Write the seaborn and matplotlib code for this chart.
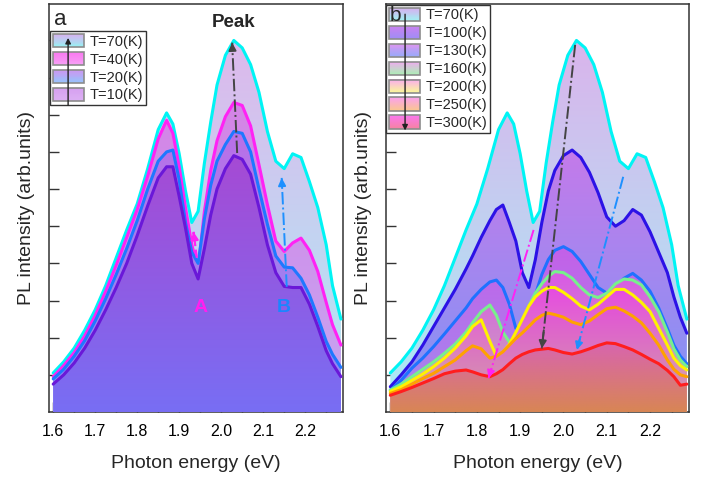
import numpy as np
import pandas as pd
import matplotlib
matplotlib.use("Agg")
import matplotlib.pyplot as plt
import seaborn as sns
from matplotlib.patches import Polygon, Rectangle
from matplotlib.legend_handler import HandlerBase
from matplotlib.ticker import MultipleLocator

# ---------------------------------------------------------------- data
# Low-temperature spectra (panel a), photon energy in eV, PL in arb. units
energy_a = [1.600, 1.625, 1.650, 1.675, 1.700, 1.725, 1.750, 1.775, 1.800,
            1.825, 1.850, 1.870, 1.885, 1.900, 1.915, 1.930, 1.945, 1.960,
            1.975, 1.990, 2.010, 2.030, 2.050, 2.070, 2.090, 2.110, 2.130,
            2.150, 2.170, 2.190, 2.210, 2.230, 2.250, 2.265, 2.285]
pl_70K = [1.05, 1.35, 1.72, 2.20, 2.75, 3.40, 4.15, 4.90, 5.60,
          6.55, 7.60, 8.05, 7.75, 6.95, 5.95, 5.10, 5.40, 6.70,
          7.80, 8.80, 9.60, 10.00, 9.80, 9.35, 8.60, 7.55, 6.75,
          6.55, 6.95, 6.85, 6.20, 5.50, 4.50, 3.40, 2.50]
pl_40K = [0.95, 1.25, 1.60, 2.05, 2.60, 3.25, 3.95, 4.70, 5.45,
          6.35, 7.35, 7.85, 7.50, 6.60, 5.50, 4.50, 3.85, 5.40,
          6.50, 7.30, 7.95, 8.33, 8.25, 7.70, 6.65, 5.58, 4.60,
          4.32, 4.55, 4.68, 4.35, 3.78, 2.95, 2.35, 1.80]
pl_20K = [0.89, 1.15, 1.50, 1.92, 2.45, 3.05, 3.70, 4.40, 5.15,
          6.00, 6.75, 7.00, 7.05, 6.25, 5.10, 4.30, 4.00, 5.20,
          6.10, 6.75, 7.20, 7.55, 7.50, 7.00, 6.00, 5.05, 4.20,
          3.90, 3.88, 3.60, 3.15, 2.55, 1.90, 1.55, 1.20]
pl_10K = [0.75, 1.00, 1.32, 1.72, 2.20, 2.75, 3.35, 4.00, 4.75,
          5.55, 6.30, 6.60, 6.60, 5.80, 4.95, 4.00, 3.58, 4.40,
          5.30, 6.00, 6.55, 6.90, 6.80, 6.40, 5.50, 4.50, 3.75,
          3.38, 3.35, 3.35, 2.90, 2.30, 1.65, 1.30, 0.95]

# Higher-temperature spectra (panel b); the 70 K spectrum is shared with panel a
energy_b = [1.600, 1.625, 1.650, 1.675, 1.700, 1.725, 1.750, 1.775, 1.790,
            1.810, 1.830, 1.845, 1.860, 1.875, 1.890, 1.905, 1.920, 1.935,
            1.950, 1.965, 1.980, 2.000, 2.020, 2.040, 2.060, 2.080, 2.100,
            2.120, 2.140, 2.160, 2.180, 2.200, 2.220, 2.240, 2.255, 2.270,
            2.285]
pl_100K = [0.68, 1.00, 1.35, 1.80, 2.30, 2.80, 3.30, 3.85, 4.20,
           4.70, 5.15, 5.45, 5.57, 5.10, 4.60, 3.75, 3.35, 4.10,
           5.10, 5.95, 6.50, 6.90, 7.05, 6.85, 6.45, 5.90, 5.25,
           5.00, 5.15, 5.45, 5.30, 4.85, 4.30, 3.75, 3.10, 2.55,
           2.12]
pl_130K = [0.59, 0.85, 1.18, 1.45, 1.76, 2.10, 2.45, 2.80, 3.05,
           3.30, 3.50, 3.55, 3.35, 2.90, 2.25, 2.20, 2.60, 3.15,
           3.70, 4.10, 4.35, 4.45, 4.32, 4.05, 3.70, 3.35, 3.20,
           3.35, 3.60, 3.73, 3.55, 3.25, 2.80, 2.25, 1.80, 1.50,
           1.30]
pl_160K = [0.59, 0.75, 0.95, 1.15, 1.35, 1.58, 1.83, 2.15, 2.40,
           2.70, 2.88, 2.60, 2.15, 1.88, 2.05, 2.40, 2.85, 3.20,
           3.45, 3.65, 3.78, 3.75, 3.60, 3.35, 3.15, 3.08, 3.20,
           3.45, 3.58, 3.55, 3.42, 3.10, 2.70, 2.15, 1.70, 1.40,
           1.22]
pl_200K = [0.55, 0.68, 0.85, 1.02, 1.22, 1.45, 1.72, 2.05, 2.30,
           2.48, 1.90, 1.50, 1.60, 1.82, 2.15, 2.50, 2.85, 3.10,
           3.25, 3.35, 3.35, 3.22, 3.05, 2.85, 2.75, 2.90, 3.10,
           3.30, 3.30, 3.15, 2.95, 2.70, 2.25, 1.80, 1.45, 1.25,
           1.13]
pl_250K = [0.50, 0.60, 0.75, 0.90, 1.04, 1.22, 1.40, 1.65, 1.78,
           1.70, 1.45, 1.50, 1.62, 1.80, 1.98, 2.13, 2.30, 2.48,
           2.60, 2.66, 2.62, 2.55, 2.42, 2.35, 2.45, 2.62, 2.78,
           2.82, 2.72, 2.58, 2.40, 2.12, 1.80, 1.40, 1.15, 1.00,
           0.95]
pl_300K = [0.45, 0.55, 0.66, 0.78, 0.90, 1.03, 1.10, 1.13, 1.08,
           1.00, 0.95, 1.03, 1.14, 1.30, 1.45, 1.55, 1.62, 1.67,
           1.69, 1.71, 1.67, 1.60, 1.56, 1.62, 1.70, 1.79, 1.86,
           1.84, 1.76, 1.67, 1.55, 1.42, 1.30, 1.12, 0.95, 0.72,
           0.75]

labels_a = ["T=70(K)", "T=40(K)", "T=20(K)", "T=10(K)"]
labels_b = ["T=70(K)", "T=100(K)", "T=130(K)", "T=160(K)",
            "T=200(K)", "T=250(K)", "T=300(K)"]
x_ticks = [1.6, 1.7, 1.8, 1.9, 2.0, 2.1, 2.2]
x_tick_labels = ["1.6", "1.7", "1.8", "1.9", "2.0", "2.1", "2.2"]

# ---------------------------------------------------------------- style
sns.set_theme(style="ticks")
plt.rcParams["font.family"] = ["Liberation Sans", "DejaVu Sans"]
plt.rcParams["axes.edgecolor"] = "#333333"

# (line colour, fill colour at top, fill colour at bottom)
style_a = {
    "T=70(K)": ("#00f4f4", (222, 184, 236), (172, 236, 246)),
    "T=40(K)": ("#ff22f4", (212, 132, 230), (198, 166, 242)),
    "T=20(K)": ("#1f78ff", (186, 112, 232), (140, 140, 246)),
    "T=10(K)": ("#6a18d8", (166, 74, 212), (120, 110, 244)),
}
style_b = {
    "T=70(K)": ("#00f4f4", (218, 180, 236), (168, 238, 246)),
    "T=100(K)": ("#2c12e6", (196, 122, 234), (126, 150, 246)),
    "T=130(K)": ("#1f72ff", (196, 96, 232), (160, 140, 240)),
    "T=160(K)": ("#78f08c", (218, 88, 230), (196, 182, 176)),
    "T=200(K)": ("#fff200", (230, 74, 226), (212, 182, 156)),
    "T=250(K)": ("#ffa200", (226, 84, 214), (208, 166, 162)),
    "T=300(K)": ("#ff1e1e", (216, 100, 176), (216, 134, 84)),
}
legend_swatch_a = {
    "T=70(K)": ((216, 176, 240), (150, 242, 242)),
    "T=40(K)": ((250, 120, 240), (246, 160, 246)),
    "T=20(K)": ((204, 150, 240), (150, 196, 252)),
    "T=10(K)": ((214, 160, 240), (220, 176, 244)),
}
legend_swatch_b = {
    "T=70(K)": ((214, 176, 240), (160, 242, 242)),
    "T=100(K)": ((200, 130, 240), (160, 140, 246)),
    "T=130(K)": ((220, 150, 240), (150, 170, 250)),
    "T=160(K)": ((240, 170, 240), (170, 240, 180)),
    "T=200(K)": ((250, 170, 240), (250, 250, 150)),
    "T=250(K)": ((250, 160, 240), (250, 200, 140)),
    "T=300(K)": ((250, 120, 240), (246, 130, 160)),
}

YMAX = 10.98


def rgb(c):
    return np.array(c, dtype=float) / 255.0


def gradient_area(ax, x, y, top, bottom, z):
    """Fill under a spectrum with a vertical colour gradient."""
    x = np.asarray(x)
    y = np.asarray(y)
    verts = np.vstack([[x[0], 0.0], np.column_stack([x, y]), [x[-1], 0.0]])
    clip = Polygon(verts, closed=True, facecolor="none", edgecolor="none")
    ax.add_patch(clip)
    f = np.linspace(0, 1, 256)[:, None]
    img = rgb(bottom)[None, :] * (1 - f) + rgb(top)[None, :] * f
    im = ax.imshow(img[:, None, :], extent=[x[0], x[-1], 0, y.max()],
                   origin="lower", aspect="auto", zorder=z,
                   interpolation="bilinear")
    im.set_clip_path(clip)


class GradientKey:
    def __init__(self, top, bottom):
        self.top = rgb(top)
        self.bottom = rgb(bottom)


class GradientKeyHandler(HandlerBase):
    def create_artists(self, legend, orig, xdescent, ydescent, width,
                       height, fontsize, trans):
        n = 14
        arts = []
        for i in range(n):
            f = (i + 0.5) / n
            c = orig.bottom * (1 - f) + orig.top * f
            arts.append(Rectangle((-xdescent, -ydescent + height * i / n),
                                  width, height / n * 1.05, facecolor=c,
                                  edgecolor="none", transform=trans))
        arts.append(Rectangle((-xdescent, -ydescent), width, height,
                              facecolor="none", edgecolor="#8c8c8c",
                              lw=1.2, transform=trans))
        return arts


def long_frame(energy, series):
    parts = [pd.DataFrame({"energy": energy, "intensity": vals, "T": lab})
             for lab, vals in series]
    return pd.concat(parts, ignore_index=True)


df_a = long_frame(energy_a, zip(labels_a, [pl_70K, pl_40K, pl_20K, pl_10K]))
df_b = pd.concat([
    long_frame(energy_a, [("T=70(K)", pl_70K)]),
    long_frame(energy_b, zip(labels_b[1:], [pl_100K, pl_130K, pl_160K,
                                            pl_200K, pl_250K, pl_300K])),
], ignore_index=True)


def draw_panel(ax, df, labels, styles, lw):
    z = 2
    for lab in labels:
        sub = df[df["T"] == lab]
        line_c, top, bottom = styles[lab]
        gradient_area(ax, sub["energy"].values, sub["intensity"].values,
                      top, bottom, z)
        sns.lineplot(data=sub, x="energy", y="intensity", color=line_c,
                     lw=lw, ax=ax, estimator=None, legend=False, zorder=z + 1)
        z += 2


def format_axes(ax):
    ax.set_xlim(1.59, 2.29)
    ax.set_ylim(0, YMAX)
    ax.set_xticks(x_ticks, labels=x_tick_labels)
    ax.xaxis.set_minor_locator(MultipleLocator(0.05))
    ax.set_yticks(np.arange(1, 11))
    ax.set_yticklabels([])
    ax.tick_params(axis="both", which="major", direction="in", length=7,
                   width=1, colors="#333333", labelcolor="black",
                   labelsize=11.5, pad=9)
    ax.tick_params(axis="x", which="minor", direction="in", length=5,
                   width=1, colors="#333333")
    ax.tick_params(top=False, right=False)
    ax.set_xlabel("Photon energy (eV)", fontsize=14, labelpad=11)
    ax.set_ylabel("PL intensity (arb.units)", fontsize=14, labelpad=1)
    for s in ax.spines.values():
        s.set_visible(True)
        s.set_linewidth(1.1)
        s.set_color("#333333")


def dashed_arrow(ax, p0, p1, color, ls="-.", lw=1.4, head=11):
    ax.plot([p0[0], p1[0]], [p0[1], p1[1]], ls=ls, color=color, lw=lw,
            zorder=20)
    back = (p1[0] - 0.06 * (p1[0] - p0[0]), p1[1] - 0.06 * (p1[1] - p0[1]))
    ax.annotate("", xy=p1, xytext=back, zorder=21,
                arrowprops=dict(arrowstyle="-|>", color=color, lw=lw,
                                mutation_scale=head, shrinkA=0, shrinkB=0))


fig = plt.figure(figsize=(7.09, 4.79), dpi=100)
ax_a = fig.add_axes([0.0691, 0.1399, 0.4147, 0.8517])
ax_b = fig.add_axes([0.5444, 0.1399, 0.4274, 0.8517])

legend_kw = dict(fontsize=10.5, frameon=True, fancybox=False,
                 edgecolor="#333333", framealpha=1, borderpad=0.2,
                 labelspacing=0.22, handlelength=2.15, handleheight=1.05,
                 handletextpad=0.35, borderaxespad=0,
                 handler_map={GradientKey: GradientKeyHandler()})

# ---------------------------------------------------------------- panel a
draw_panel(ax_a, df_a, labels_a, style_a, lw=2.2)
format_axes(ax_a)
dashed_arrow(ax_a, (2.038, 6.97), (2.026, 9.94), "#444444")
dashed_arrow(ax_a, (1.942, 4.15), (1.934, 4.85), "#ff22f4", ls="--", lw=1.6)
dashed_arrow(ax_a, (2.156, 3.37), (2.144, 6.30), "#1e90ff")
ax_a.text(2.029, 10.47, "Peak", ha="center", va="center", fontsize=13.5,
          fontweight="bold", zorder=22)
ax_a.text(1.950, 2.80, "A", ha="center", va="center", fontsize=14,
          fontweight="bold", color="#ff1ff0", zorder=22)
ax_a.text(2.148, 2.80, "B", ha="center", va="center", fontsize=14,
          fontweight="bold", color="#1a86ff", zorder=22)
ax_a.text(0.038, 0.963, "a", transform=ax_a.transAxes, ha="center",
          va="center", fontsize=16, zorder=22)
leg_a = ax_a.legend([GradientKey(*legend_swatch_a[l]) for l in labels_a],
                    labels_a, loc="upper left",
                    bbox_to_anchor=(0.004, 0.934), **legend_kw)
leg_a.get_frame().set_linewidth(1.0)
leg_a.set_zorder(30)
ax_a.annotate("", xy=(0.065, 0.917), xytext=(0.065, 0.752),
              xycoords="axes fraction", zorder=31,
              arrowprops=dict(arrowstyle="-|>", color="#222222", lw=1.0,
                              mutation_scale=8, shrinkA=0, shrinkB=0))

# ---------------------------------------------------------------- panel b
draw_panel(ax_b, df_b, labels_b, style_b, lw=2.2)
format_axes(ax_b)
dashed_arrow(ax_b, (1.931, 4.90), (1.827, 0.91), "#ff22f4")
dashed_arrow(ax_b, (2.027, 9.88), (1.950, 1.71), "#444444")
dashed_arrow(ax_b, (2.138, 6.33), (2.031, 1.67), "#1e90ff")
leg_b = ax_b.legend([GradientKey(*legend_swatch_b[l]) for l in labels_b],
                    labels_b, loc="upper left", bbox_to_anchor=(0.0, 0.998),
                    **legend_kw)
leg_b.get_frame().set_linewidth(1.0)
leg_b.set_zorder(30)
ax_b.text(0.03, 0.972, "b", transform=ax_b.transAxes, ha="center",
          va="center", fontsize=15, zorder=32)
ax_b.annotate("", xy=(0.063, 0.690), xytext=(0.063, 0.975),
              xycoords="axes fraction", zorder=31,
              arrowprops=dict(arrowstyle="-|>", color="#222222", lw=1.0,
                              mutation_scale=8, shrinkA=0, shrinkB=0))

fig.savefig("out.png", dpi=100)
